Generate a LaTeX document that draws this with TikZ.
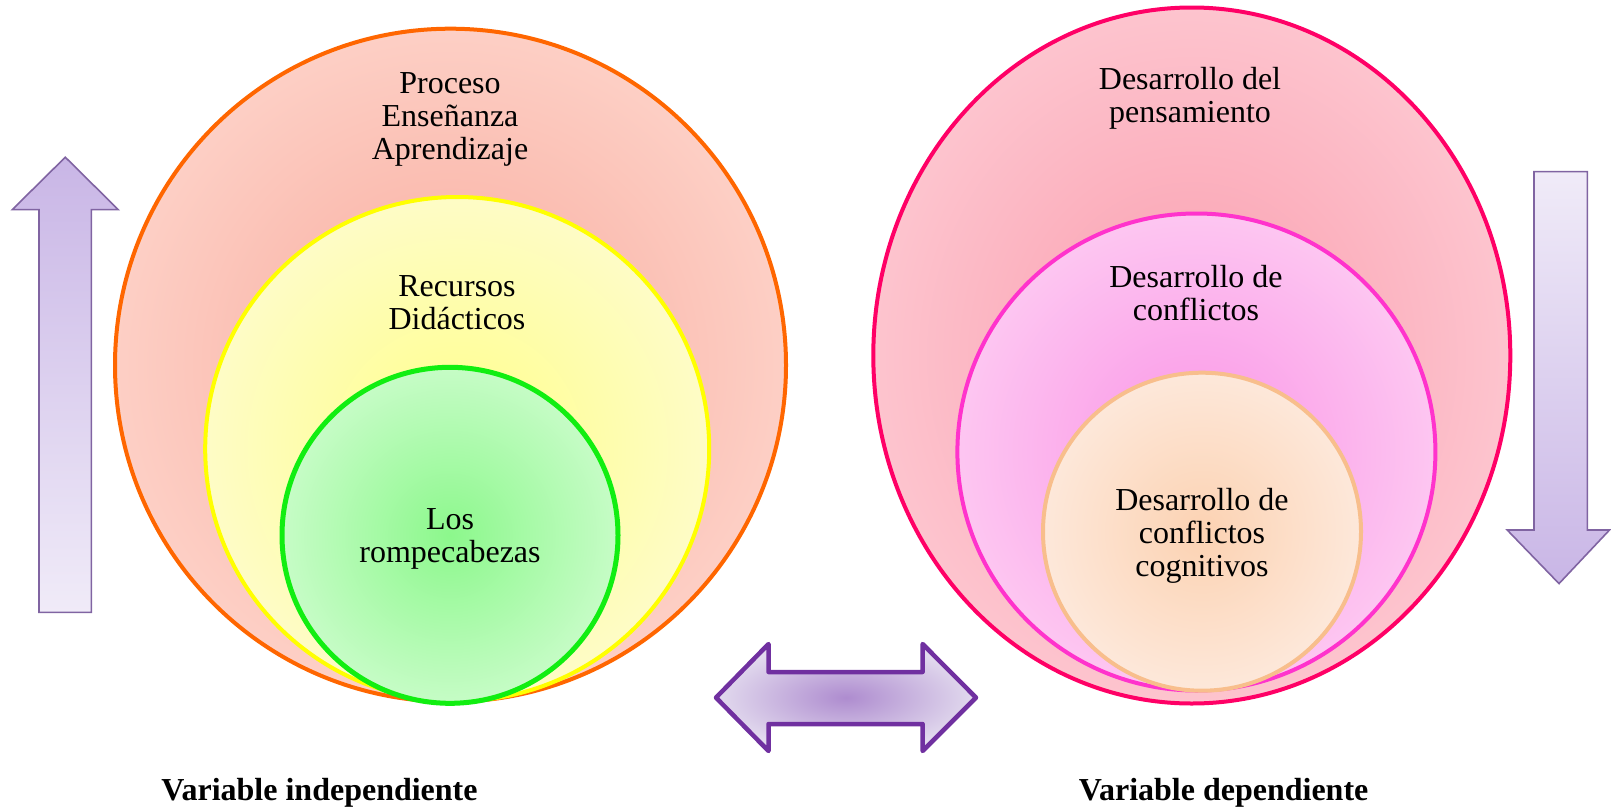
\documentclass[tikz,border=0pt]{standalone}
\usepackage{fontspec}
\setmainfont{Liberation Serif}
\usetikzlibrary{shapes.geometric}
\definecolor{arrowline}{HTML}{8064A2}
\definecolor{arrowdark}{HTML}{C9B6E6}
\definecolor{arrowlight}{HTML}{F0EBF8}
\definecolor{dblline}{HTML}{7030A0}
\definecolor{dblin}{HTML}{AE8CCF}
\definecolor{dblout}{HTML}{E2DAEE}
\definecolor{orangeline}{HTML}{FF6600}
\definecolor{orangein}{HTML}{F8AA9C}
\definecolor{orangeout}{HTML}{FDCFC5}
\definecolor{yellowline}{HTML}{FFFF00}
\definecolor{yellowin}{HTML}{FFFF88}
\definecolor{yellowout}{HTML}{FEFCC6}
\definecolor{greenline}{HTML}{11EE11}
\definecolor{greenin}{HTML}{8CF88C}
\definecolor{greenout}{HTML}{C6FCC6}
\definecolor{crimsonline}{HTML}{FF0066}
\definecolor{crimsonin}{HTML}{FA9DAE}
\definecolor{crimsonout}{HTML}{FDC4CE}
\definecolor{magline}{HTML}{FF33CC}
\definecolor{magin}{HTML}{FA94E6}
\definecolor{magout}{HTML}{FDC6F1}
\definecolor{peachline}{HTML}{F8BE8C}
\definecolor{peachin}{HTML}{FCD2B2}
\definecolor{peachout}{HTML}{FDE8DA}
\tikzset{
  ring/.style={ellipse, inner sep=0pt, line width=4pt, shading=radial},
  label/.style={align=center, font=\fontsize{32}{33}\selectfont},
  vlabel/.style={font=\fontsize{32}{33}\selectfont\bfseries},
  arrowbox/.style={draw=arrowline, line width=1.6pt, line join=miter},
}
\begin{document}
\begin{tikzpicture}[x=1pt,y=-1pt]
\useasboundingbox (0,0) rectangle (1611,811);

% left up arrow
\path[arrowbox, top color=arrowdark, bottom color=arrowlight]
  (65.3,157.2) -- (118.2,209.6) -- (91.4,209.6) -- (91.4,612.3)
  -- (39,612.3) -- (39,209.6) -- (12.3,209.6) -- cycle;

% right down arrow
\path[arrowbox, top color=arrowlight, bottom color=arrowdark]
  (1534,171.6) -- (1587.3,171.6) -- (1587.3,530) -- (1609.5,530)
  -- (1559,583.6) -- (1507.2,530) -- (1534,530) -- cycle;

% double arrow
\path[draw=dblline, line width=4.5pt, line join=round, inner color=dblin, outer color=dblout]
  (716,697.6) -- (768.5,644) -- (768.5,672) -- (922.6,672) -- (922.6,644)
  -- (976,697.6) -- (922.6,751) -- (922.6,724) -- (768.5,724) -- (768.5,751) -- cycle;

% left circles
\node[ring, draw=orangeline, inner color=orangein, outer color=orangeout,
      minimum width=671pt, minimum height=673pt] (proc) at (450.5,365.2) {};
\node[ring, draw=yellowline, inner color=yellowin, outer color=yellowout,
      minimum width=504pt, minimum height=504pt] (recu) at (457.2,449) {};
\node[ring, draw=greenline, line width=5pt, inner color=greenin, outer color=greenout,
      minimum width=336pt, minimum height=336pt] (romp) at (450,535.3) {};

% right circles
\node[ring, draw=crimsonline, inner color=crimsonin, outer color=crimsonout,
      minimum width=637pt, minimum height=696pt] (pens) at (1191.8,355.5) {};
\node[ring, draw=magline, inner color=magin, outer color=magout,
      minimum width=478pt, minimum height=477pt] (conf) at (1196.4,452) {};
\node[ring, draw=peachline, inner color=peachin, outer color=peachout,
      minimum width=318pt, minimum height=318pt] (cogn) at (1202,531.7) {};

% texts
\node[label] (tproc) at (450,119) {Proceso\\Enseñanza\\Aprendizaje};
\node[label] (trecu) at (457,303) {Recursos\\Didácticos};
\node[label] (tromp) at (450,539) {Los\\rompecabezas};
\node[label] (tpens) at (1190,98) {Desarrollo del\\pensamiento};
\node[label] (tconf) at (1196,293) {Desarrollo de\\conflictos};
\node[label] (tcogn) at (1202,536) {Desarrollo de\\conflictos\\cognitivos};

\node[vlabel] (vind) at (319.5,793) {Variable independiente};
\node[vlabel] (vdep) at (1223.6,793) {Variable dependiente};
\end{tikzpicture}
\end{document}
